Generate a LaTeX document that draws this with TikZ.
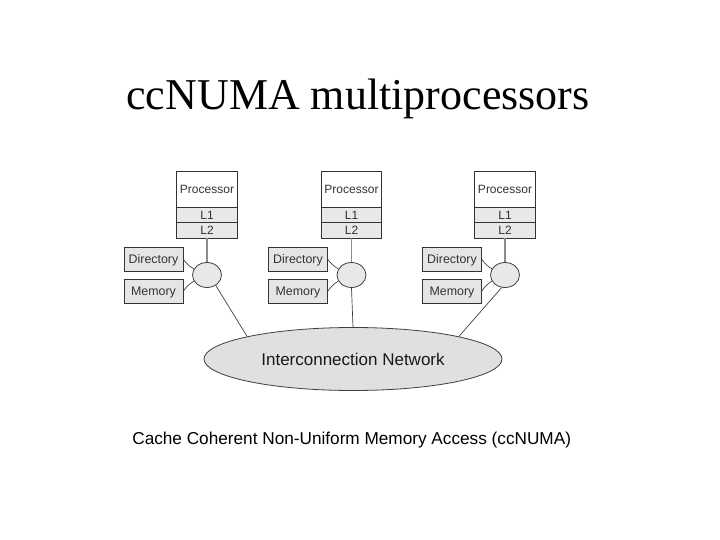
\documentclass[tikz,border=0pt]{standalone}
\usepackage{fontspec}
\setmainfont{Liberation Serif}
\newfontfamily\arialf{Liberation Sans}
\usetikzlibrary{shapes.geometric}
\begin{document}
\begin{tikzpicture}[x=1pt,y=-1pt,
 box/.style={draw=black!80, line width=0.9pt, inner sep=0pt, minimum width=60.5pt, font=\arialf\fontsize{12}{13}\selectfont, text=black!80},
 procbox/.style={box, fill=white, minimum height=36pt},
 cachebox/.style={box, fill=black!9, minimum height=15.3pt},
 membox/.style={box, fill=black!10, minimum width=59pt, minimum height=24pt, font=\arialf\fontsize{12.4}{13}\selectfont, text height=8.9pt, text depth=0pt},
 hub/.style={ellipse, draw=black!75, line width=0.8pt, fill=black!9, minimum width=29pt, minimum height=25pt, inner sep=0pt},
 bus/.style={draw=black!45, line width=1.8pt},
 link/.style={draw=black!75, line width=0.7pt},
 netw/.style={ellipse, draw=black!75, line width=0.8pt, fill=black!12, minimum width=298pt, minimum height=63pt, inner sep=0pt, font=\arialf\fontsize{17}{20}\selectfont, text=black!90},
]
\useasboundingbox[fill=white] (0,0) rectangle (720,540);

\node[anchor=base, font=\fontsize{44}{50}\selectfont] (title) at (358,109.3) {ccNUMA multiprocessors};

\node[netw] (net) at (353,359) {Interconnection Network};

% node 1
\node[procbox] (p1) at (207,189.5) {Processor};
\node[cachebox] (la1) at (207,215) {L1};
\node[cachebox] (lb1) at (207,230.3) {L2};
\node[membox] (d1) at (153.5,259.5) {Directory};
\node[membox] (m1) at (153.5,291) {Memory};
\node[hub] (h1) at (207,275) {};

% node 2
\node[procbox] (p2) at (351.5,189.5) {Processor};
\node[cachebox] (la2) at (351.5,215) {L1};
\node[cachebox] (lb2) at (351.5,230.3) {L2};
\node[membox] (d2) at (298,259.5) {Directory};
\node[membox] (m2) at (298,291) {Memory};
\node[hub] (h2) at (351.5,275) {};

% node 3
\node[procbox] (p3) at (505,189.5) {Processor};
\node[cachebox] (la3) at (505,215) {L1};
\node[cachebox] (lb3) at (505,230.3) {L2};
\node[membox] (d3) at (452,259.5) {Directory};
\node[membox] (m3) at (452,291) {Memory};
\node[hub] (h3) at (505,275) {};

\foreach \i in {1,2,3}{
  \draw[bus] (lb\i.south) -- (h\i.north);
  \draw[link] (d\i.east) to[bend right=12] (h\i.155);
  \draw[link] (m\i.east) to[bend left=12] (h\i.205);
}
\draw[link] (h1.-50) -- (net.168);
\draw[link] (h2.south) -- (net.north);
\draw[link] (h3.255) -- (net.12);

\node[anchor=base, font=\arialf\fontsize{17.2}{20}\selectfont] (cap) at (351.7,444) {Cache Coherent Non-Uniform Memory Access (ccNUMA)};
\end{tikzpicture}
\end{document}
